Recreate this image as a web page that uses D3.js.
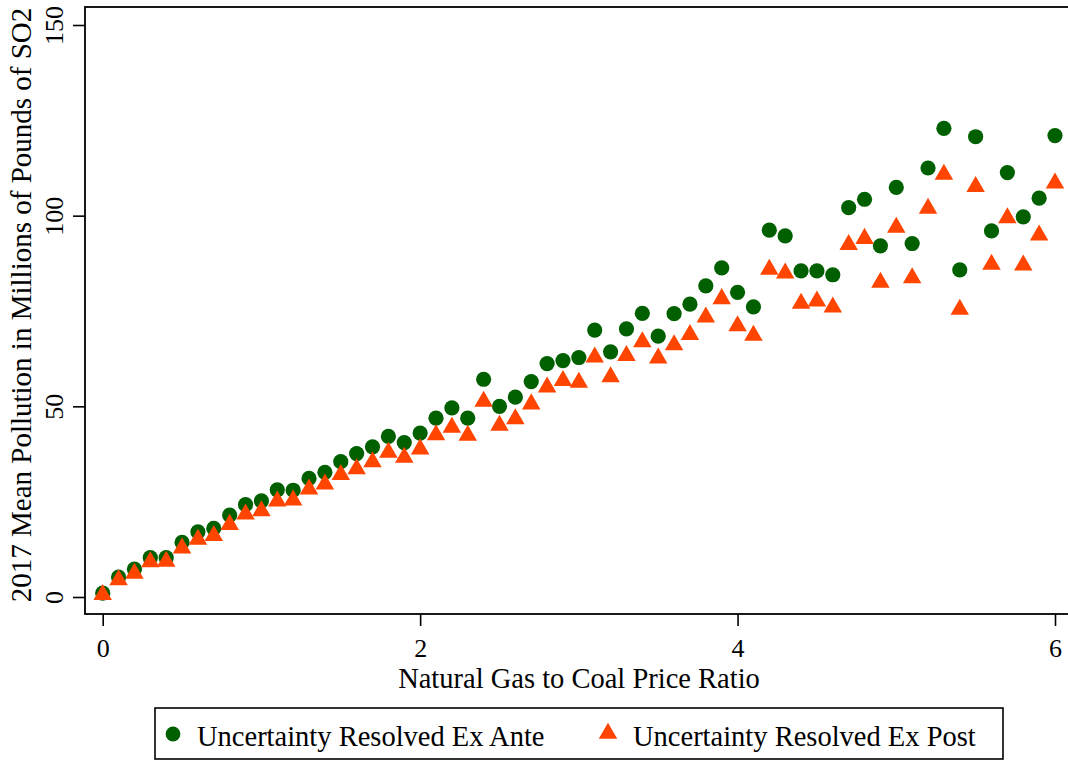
<!DOCTYPE html>
<html>
<head>
<meta charset="utf-8">
<script src="https://cdn.jsdelivr.net/npm/d3@7"></script>
<style>
  body { margin: 0; background: #fff; }
  text { font-family: "Liberation Serif", "Times New Roman", serif; fill: #000; }
</style>
</head>
<body>
<div id="chart"></div>
<script>
// natural gas to coal price ratio
var ratio = [0.0, 0.1, 0.2, 0.3, 0.4, 0.5, 0.6, 0.7, 0.8, 0.9,
	1.0, 1.1, 1.2, 1.3, 1.4, 1.5, 1.6, 1.7, 1.8, 1.9,
	2.0, 2.1, 2.2, 2.3, 2.4, 2.5, 2.6, 2.7, 2.8, 2.9,
	3.0, 3.1, 3.2, 3.3, 3.4, 3.5, 3.6, 3.7, 3.8, 3.9,
	4.0, 4.1, 4.2, 4.3, 4.4, 4.5, 4.6, 4.7, 4.8, 4.9,
	5.0, 5.1, 5.2, 5.3, 5.4, 5.5, 5.6, 5.7, 5.8, 5.9, 6.0];

var exAnte = [1.0, 5.2, 7.3, 10.3, 10.3, 14.3, 17.1, 18.0, 21.5, 24.2,
	25.2, 28.1, 28.0, 31.1, 32.7, 35.5, 37.6, 39.4, 42.1, 40.5,
	43.0, 46.9, 49.6, 46.9, 57.1, 50.0, 52.4, 56.5, 61.2, 62.0,
	62.8, 70.0, 64.3, 70.3, 74.4, 68.4, 74.3, 76.8, 81.6, 86.3,
	79.9, 76.1, 96.2, 94.7, 85.5, 85.5, 84.5, 102.1, 104.3, 92.1,
	107.4, 92.7, 112.5, 122.9, 85.8, 120.7, 96.0, 111.3, 99.7, 104.6, 121.0];

var exPost = [0.6, 4.5, 6.2, 9.2, 9.3, 12.8, 15.1, 16.1, 19.0, 21.7,
	22.6, 25.1, 25.4, 28.3, 29.6, 32.1, 33.6, 35.4, 37.9, 36.6,
	38.8, 42.5, 44.5, 42.4, 51.3, 45.0, 46.7, 50.6, 55.0, 56.7,
	56.3, 62.9, 57.7, 63.3, 66.9, 62.6, 66.1, 68.8, 73.4, 78.2,
	71.1, 68.6, 85.9, 84.9, 77.0, 77.6, 76.0, 92.4, 94.0, 82.5,
	96.9, 83.7, 101.9, 110.8, 75.4, 107.6, 87.2, 99.4, 87.0, 94.9, 108.5];

var xTicks = [0, 2, 4, 6];
var yTicks = [0, 50, 100, 150];
var seriesNames = ["Uncertainty Resolved Ex Ante", "Uncertainty Resolved Ex Post"];

var green = "#006000",
	orange = "#ff4500";

var width = 1068, height = 760;

// plot box (right side runs off the picture, like the original)
var box = {left: 85, top: 7, right: 1080, bottom: 614};

var x = d3.scaleLinear().domain([0, 6]).range([102.7, 1055]),
	y = d3.scaleLinear().domain([0, 150]).range([597, 25]);

var svg = d3.select("#chart")
	.append("svg")
	.attr("width", width)
	.attr("height", height);

svg.append("rect")
	.attr("x", box.left)
	.attr("y", box.top)
	.attr("width", box.right - box.left)
	.attr("height", box.bottom - box.top)
	.attr("fill", "none")
	.attr("stroke", "#000")
	.attr("stroke-width", 1.8);

// axes
var xAxis = svg.append("g")
	.attr("transform", "translate(0," + box.bottom + ")")
	.call(d3.axisBottom(x).tickValues(xTicks).tickSize(12).tickPadding(13)
		.tickFormat(d3.format("d")));

var yAxis = svg.append("g")
	.attr("transform", "translate(" + box.left + ",0)")
	.call(d3.axisLeft(y).tickValues(yTicks).tickSize(12).tickPadding(0)
		.tickFormat(d3.format("d")));

[xAxis, yAxis].forEach(function(g) {
	g.select(".domain").remove();
	g.selectAll(".tick line").attr("stroke", "#000").attr("stroke-width", 1.6);
	g.selectAll("text").attr("font-family", null).style("font-size", "26px").attr("fill", "#000");
});

// x labels: set baseline directly so the box stays clear of the title
xAxis.selectAll("text").attr("dy", 0).attr("y", 43);

yAxis.selectAll("text")
	.attr("transform", "rotate(-90)")
	.attr("x", 0)
	.attr("y", -22)
	.attr("dy", 0)
	.attr("text-anchor", "middle");

// titles
svg.append("text")
	.attr("x", 579)
	.attr("y", 688)
	.attr("text-anchor", "middle")
	.style("font-size", "28.5px")
	.text("Natural Gas to Coal Price Ratio");

svg.append("text")
	.attr("transform", "translate(31,305) rotate(-90)")
	.attr("text-anchor", "middle")
	.style("font-size", "29px")
	.text("2017 Mean Pollution in Millions of Pounds of SO2");

// markers
var tri = d3.symbol().type(d3.symbolTriangle).size(148);

svg.append("g").selectAll("circle")
	.data(ratio)
	.enter().append("circle")
	.attr("cx", function(d) { return x(d); })
	.attr("cy", function(d, i) { return y(exAnte[i]); })
	.attr("r", 7.6)
	.attr("fill", green);

svg.append("g").selectAll("path")
	.data(ratio)
	.enter().append("path")
	.attr("d", tri)
	.attr("transform", function(d, i) { return "translate(" + x(d) + "," + y(exPost[i]) + ")"; })
	.attr("fill", orange);

// legend
var legend = svg.append("g");

legend.append("rect")
	.attr("x", 155)
	.attr("y", 708)
	.attr("width", 848)
	.attr("height", 51)
	.attr("fill", "none")
	.attr("stroke", "#000")
	.attr("stroke-width", 1.6);

legend.append("circle")
	.attr("cx", 173)
	.attr("cy", 734)
	.attr("r", 7.4)
	.attr("fill", green);

legend.append("path")
	.attr("d", tri)
	.attr("transform", "translate(608,733.5)")
	.attr("fill", orange);

legend.selectAll("text.lab")
	.data(seriesNames)
	.enter().append("text")
	.attr("class", "lab")
	.attr("x", function(d, i) { return i == 0 ? 197 : 633; })
	.attr("y", 746)
	.style("font-size", "28.5px")
	.text(function(d) { return d; });
</script>
</body>
</html>
